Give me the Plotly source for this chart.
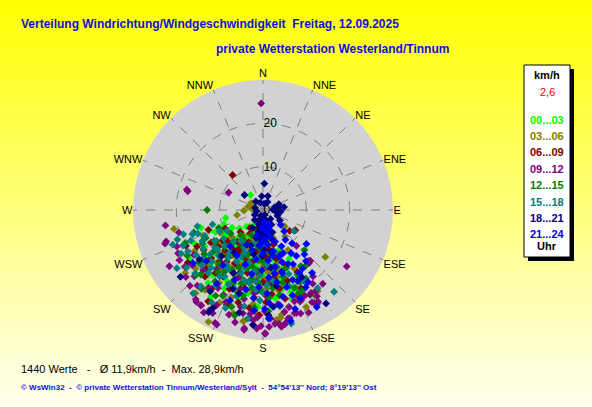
import plotly.graph_objects as go

werte_00_03 = [(258, 8.8), (250, 9.6), (320, 4.5), (199, 23.2), (200, 22.3), (149, 23.0), (161, 19.9), (159, 19.2),
               (235, 10.5), (240, 8.2), (228, 12.4), (222, 9.1), (215, 11.8), (210, 7.6), (205, 13.5), (198, 10.2),
               (192, 8.4), (188, 12.9), (185, 6.3), (182, 15.1), (178, 9.7), (175, 13.3), (170, 11.6), (166, 16.4),
               (160, 14.2), (155, 17.8), (213, 15.6), (219, 17.2), (226, 14.8), (232, 6.9), (245, 12.1), (238, 15.9),
               (207, 18.4), (196, 16.7), (190, 19.5), (184, 18.2), (176, 17.1), (172, 20.6), (168, 8.8), (164, 12.5),
               (194, 4.6), (202, 5.9), (212, 4.2), (225, 5.4), (180, 3.8), (186, 2.7), (230, 18.8), (217, 21.1),
               (209, 9.8), (203, 11.3), (197, 14.1), (191, 6.9), (171, 5.8), (158, 9.9), (152, 12.8), (183, 22.4),
               (244, 17.6), (254, 14.9), (236, 20.3), (221, 13.1), (214, 8.6), (206, 20.2), (187, 10.8), (179, 14.6),
               (173, 7.4), (167, 18.9), (162, 21.5), (183, 5.2), (178, 6.1), (189, 7.3), (174, 9.0), (181, 11.9),
               (176, 4.7), (193, 9.1), (200, 12.6), (208, 15.0), (216, 10.4), (224, 16.5), (233, 13.7), (241, 10.8),
               (249, 13.2), (186, 16.0), (170, 14.1), (163, 17.6), (156, 20.3), (195, 20.9), (211, 23.3), (184, 9.6),
               (191, 11.4), (197, 17.9), (204, 16.3), (218, 19.1), (229, 16.9), (177, 11.0), (169, 16.8)]
werte_03_06 = [(276, 2.6), (259, 6.1), (127, 6.3), (140, 7.9), (127, 18.0), (156, 24.5), (147, 22.3), (170, 24.6),
               (171, 25.3), (173, 25.5), (190, 26.1), (200, 21.4), (197, 19.9), (206, 28.7), (190, 26.0), (229, 20.6),
               (258, 21.0), (129, 6.0), (146, 22.6), (283, 3.5), (295, 2.4), (300, 3.2), (268, 4.4), (242, 11.2),
               (236, 13.8), (229, 9.5), (221, 16.1), (214, 12.7), (208, 14.9), (201, 9.3), (194, 17.4), (189, 11.6),
               (184, 13.9), (178, 18.3), (174, 10.4), (168, 15.7), (163, 12.2), (157, 19.4), (152, 15.3), (148, 10.9),
               (186, 21.8), (181, 7.2), (193, 5.8), (218, 7.4), (233, 16.9), (247, 15.1), (211, 19.6), (205, 23.6),
               (199, 16.2), (177, 21.2), (165, 23.1), (160, 6.9), (210, 4.9), (226, 18.1), (216, 22.8), (185, 9.2),
               (195, 12.3), (170, 4.3), (180, 12.8), (187, 15.8), (192, 9.9), (198, 7.1), (203, 17.8), (209, 11.0),
               (215, 17.1), (222, 13.5), (230, 11.9), (239, 18.4), (175, 14.5), (169, 19.0), (162, 17.2), (155, 21.2),
               (183, 24.2), (196, 24.8), (219, 24.7), (231, 23.1), (188, 18.6), (201, 13.6), (212, 15.3), (225, 14.3),
               (179, 16.0), (166, 13.5)]
werte_06_09 = [(319, 10.7), (128, 7.8), (122, 8.8), (230, 18.9), (182, 24.3), (168, 18.5), (238, 14.2), (233, 11.7),
               (227, 16.3), (223, 12.8), (219, 9.4), (215, 14.6), (211, 17.9), (207, 11.2), (204, 8.1), (200, 15.3),
               (197, 12.4), (193, 18.6), (190, 9.8), (187, 14.1), (183, 11.3), (180, 16.7), (176, 13.2), (172, 9.1),
               (169, 14.9), (165, 11.6), (161, 17.3), (157, 13.8), (221, 20.4), (213, 21.7), (203, 19.8), (195, 22.1),
               (186, 20.5), (178, 21.3), (209, 6.2), (216, 5.1), (199, 4.8), (188, 5.9), (244, 9.7), (241, 17.4),
               (235, 21.2), (226, 7.3), (217, 18.2), (206, 16.0), (192, 7.7), (184, 18.7), (174, 19.5), (163, 8.3),
               (154, 20.1), (250, 13.4), (231, 13.3), (220, 15.5), (212, 10.6), (198, 13.7), (189, 16.4), (181, 9.3),
               (159, 11.0), (151, 16.4), (183, 14.9), (178, 10.5), (191, 12.0), (196, 17.5), (202, 11.7), (208, 13.9),
               (214, 9.2), (224, 18.9), (229, 10.9), (236, 16.5), (245, 19.6), (171, 15.9), (166, 21.1), (188, 22.8),
               (201, 23.4), (211, 24.6), (175, 11.2), (194, 15.0), (205, 14.1), (218, 11.4), (185, 16.6), (173, 17.3)]
werte_09_12 = [(359, 24.6), (285, 18.2), (297, 8.9), (124, 23.3), (179, 28.6), (189, 28.0), (185, 26.6), (137, 11.3),
               (139, 16.2), (152, 24.1), (150, 25.0), (162, 25.0), (157, 22.6), (158, 21.6), (169, 26.7), (174, 26.4),
               (166, 25.7), (179, 28.4), (181, 26.8), (185, 25.5), (189, 27.6), (187, 24.1), (185, 23.2), (191, 24.3),
               (202, 28.5), (206, 26.5), (208, 26.1), (213, 26.2), (206, 24.4), (202, 22.9), (187, 25.1), (183, 24.8),
               (141, 21.9), (150, 22.1), (151, 22.4), (147, 22.3), (151, 24.5), (149, 24.7), (163, 24.9), (160, 25.4),
               (167, 25.7), (169, 26.8), (172, 26.5), (176, 25.1), (165, 23.2), (161, 22.3), (158, 22.8), (146, 20.5),
               (239, 22.5), (216, 26.2), (213, 26.3), (217, 25.8), (203, 28.3), (284, 17.9), (261, 22.8), (252, 23.5),
               (251, 23.9), (243, 22.0), (239, 25.2), (234, 22.3), (137, 16.0), (138, 15.8), (225, 19.5), (218, 17.3),
               (210, 20.8), (196, 18.9), (192, 21.0), (178, 19.8), (171, 22.0), (229, 23.6), (224, 24.3), (190, 14.9),
               (200, 16.6), (175, 16.2), (156, 25.9), (148, 23.5), (171, 27.3), (177, 27.0), (183, 27.4), (194, 26.7),
               (198, 25.4), (210, 27.3), (221, 23.1), (226, 22.0), (232, 20.7), (237, 19.0), (247, 21.6), (255, 20.1),
               (143, 19.2), (154, 22.0), (168, 24.0), (193, 22.9), (205, 21.6), (215, 21.9), (186, 19.3), (179, 23.4)]
werte_12_15 = [(270, 12.9), (248, 11.0), (134, 13.3), (146, 15.6), (143, 16.2), (154, 20.7), (157, 20.9), (218, 23.1),
               (226, 21.6), (224, 20.7), (239, 20.4), (153, 18.7), (148, 18.7), (231, 19.2), (236, 12.9), (230, 15.2),
               (223, 10.7), (217, 13.6), (212, 16.8), (208, 9.7), (203, 14.4), (199, 11.1), (196, 17.6), (191, 13.2),
               (187, 8.6), (183, 16.9), (179, 12.1), (175, 15.8), (171, 10.3), (167, 13.7), (163, 16.1), (158, 14.4),
               (214, 19.8), (205, 21.9), (193, 20.3), (185, 22.6), (177, 23.4), (169, 20.1), (221, 7.8), (205, 6.4),
               (190, 4.9), (244, 14.7), (228, 17.5), (211, 12.3), (200, 8.3), (181, 7.0), (173, 18.2), (160, 11.3),
               (252, 16.8), (234, 9.2), (198, 23.5), (188, 18.1), (185, 11.7), (180, 9.4), (190, 16.2), (195, 14.0),
               (202, 18.3), (207, 15.6), (213, 8.2), (219, 16.1), (226, 12.3), (233, 17.0), (241, 16.0), (247, 19.5),
               (176, 20.3), (165, 17.4), (158, 19.4), (152, 16.9), (181, 18.8), (209, 22.6), (195, 25.2), (186, 14.0),
               (197, 10.3), (216, 17.7), (222, 14.6), (174, 13.0)]
werte_15_18 = [(254, 12.1), (124, 8.6), (191, 22.6), (166, 27.0), (139, 25.0), (251, 20.9), (246, 20.2), (251, 17.2),
               (250, 16.0), (246, 14.7), (243, 15.7), (231, 17.9), (230, 15.9), (236, 18.6), (241, 19.8), (247, 18.1),
               (238, 13.3), (234, 11.2), (229, 13.9), (225, 16.8), (221, 19.2), (218, 12.4), (214, 15.1), (210, 17.7),
               (207, 13.3), (203, 10.8), (199, 15.4), (195, 12.6), (191, 17.1), (188, 14.3), (184, 10.6), (180, 19.1),
               (176, 12.8), (172, 16.5), (168, 13.1), (164, 10.2), (158, 15.9), (227, 21.4), (219, 22.7), (212, 20.6),
               (205, 18.9), (197, 20.8), (186, 16.6), (178, 8.7), (193, 7.9), (215, 8.8), (240, 9.6), (256, 15.6),
               (249, 22.3), (233, 22.1), (223, 9.9), (201, 24.2), (182, 20.9), (170, 22.6), (161, 18.6), (244, 11.1),
               (237, 16.4), (228, 19.1), (232, 14.1), (227, 12.0), (222, 17.9), (216, 13.6), (211, 15.8), (205, 12.0),
               (200, 19.3), (195, 16.8), (189, 11.4), (183, 15.2), (177, 17.4), (242, 21.4), (253, 19.2), (236, 24.0),
               (220, 25.1), (209, 24.4), (150, 19.1), (145, 22.0), (188, 25.3), (207, 9.6), (198, 13.9), (224, 14.7),
               (213, 18.3), (185, 18.5)]
werte_18_21 = [(3, 6.1), (309, 5.5), (355, 3.2), (19, 3.4), (76, 2.8), (80, 3.6), (82, 4.9), (101, 3.3),
               (146, 26.0), (177, 24.3), (185, 26.6), (193, 24.3), (207, 25.4), (196, 20.0), (201, 19.5), (174, 22.5),
               (231, 24.5), (208, 26.7), (213, 22.4), (70, 3.9), (88, 2.3), (95, 4.1), (112, 3.6), (122, 4.6),
               (30, 2.1), (340, 1.8), (10, 1.5), (320, 2.6), (285, 1.9), (160, 1.2), (165, 2.5), (168, 3.8),
               (171, 5.1), (173, 6.3), (175, 7.4), (177, 2.0), (179, 3.1), (180, 4.4), (182, 5.7), (183, 6.9),
               (185, 8.1), (186, 1.6), (188, 2.9), (190, 4.0), (192, 5.3), (194, 6.6), (197, 3.4), (200, 1.4),
               (204, 2.6), (178, 9.2), (181, 10.6), (214, 11.8), (172, 13.5), (222, 14.3), (205, 16.1), (169, 9.9),
               (163, 7.1), (157, 5.6), (150, 3.9), (140, 2.7), (210, 4.8), (220, 3.0), (240, 2.2), (260, 1.5),
               (232, 18.6), (150, 17.9), (170, 17.8), (192, 10.4), (199, 8.7), (163, 14.8)]
werte_21_24 = [(128, 12.7), (144, 13.1), (151, 14.3), (151, 20.4), (161, 20.8), (151, 25.6), (176, 21.6), (170, 22.3),
               (157, 22.1), (163, 18.6), (148, 19.6), (139, 10.2), (143, 8.6), (147, 11.9), (150, 16.8), (153, 9.4),
               (155, 13.7), (157, 17.5), (159, 7.8), (161, 11.4), (163, 15.2), (165, 6.3), (166, 9.8), (168, 13.4),
               (169, 17.0), (171, 4.9), (172, 8.1), (174, 11.7), (175, 15.6), (177, 19.3), (178, 6.7), (180, 10.0),
               (181, 13.9), (183, 17.8), (184, 4.2), (186, 8.3), (188, 11.5), (190, 15.0), (193, 6.1), (195, 9.6),
               (198, 13.2), (202, 17.4), (205, 8.9), (210, 12.1), (216, 15.8), (222, 11.3), (228, 17.6), (233, 20.3),
               (140, 15.4), (135, 6.9), (130, 5.3), (158, 3.7), (162, 24.0), (167, 20.5), (173, 2.9), (186, 20.4),
               (192, 18.8), (154, 18.2), (146, 16.3), (160, 12.8), (170, 14.9), (164, 4.6), (182, 7.5), (185, 23.3),
               (177, 25.1), (166, 26.4), (142, 18.4), (137, 14.0), (155, 11.0), (168, 10.8), (179, 22.8), (212, 20.1),
               (200, 22.2)]

zeitraeume = ['00...03', '03...06', '06...09', '09...12', '12...15', '15...18', '18...21', '21...24']
farben = ['#00FF00', '#808000', '#800000', '#800080', '#008000', '#008080', '#000080', '#0000FF']
gruppen = [werte_00_03, werte_03_06, werte_06_09, werte_09_12, werte_12_15, werte_15_18, werte_18_21, werte_21_24]

richtungen = ['N', 'NNE', 'NE', 'ENE', 'E', 'ESE', 'SE', 'SSE', 'S', 'SSW', 'SW', 'WSW', 'W', 'WNW', 'NW', 'NNW']
ring_ticks = [0, 10, 20]

W, H = 592, 407
FONT = 'Liberation Sans, Arial, sans-serif'
BLAU = '#1010E0'

fig = go.Figure()

for name, col, werte in zip(zeitraeume, farben, gruppen):
    theta = [w[0] for w in werte]
    r = [w[1] for w in werte]
    fig.add_trace(go.Scatterpolar(r=r, theta=theta, mode='markers', name=name,
                                  marker=dict(symbol='diamond', size=6, color=col, line=dict(width=0)),
                                  showlegend=False))

# BACKGROUND GRADIENT (yellow -> pale)
shapes = []
n = 60
for i in range(n):
    t = (i + 0.5) / n
    b = int(round(242 * t))
    shapes.append(dict(type='rect', xref='paper', yref='paper', x0=0, x1=1,
                       y0=1 - (i + 1) / n - 0.001, y1=1 - i / n,
                       fillcolor='rgb(255,255,%d)' % b, line=dict(width=0), layer='below'))

# LEGEND BOX WITH SHADOW
def px_rect(x0, y0, x1, y1, **kw):
    return dict(type='rect', xref='paper', yref='paper', x0=x0 / W, x1=x1 / W,
                y0=1 - y1 / H, y1=1 - y0 / H, **kw)

shapes.append(px_rect(528, 69, 574, 261, fillcolor='black', line=dict(width=0)))
shapes.append(px_rect(524, 65, 570, 257, fillcolor='white', line=dict(color='black', width=1)))

def txt(x, y, s, size=11, color='black', bold=False, anchor='left'):
    if bold:
        s = '<b>' + s + '</b>'
    fig.add_annotation(x=x / W, y=1 - y / H, xref='paper', yref='paper', text=s, showarrow=False,
                       xanchor=anchor, yanchor='middle', font=dict(family=FONT, size=size, color=color))

txt(19, 24, 'Verteilung Windrichtung/Windgeschwindigkeit  Freitag, 12.09.2025', size=12, color=BLAU, bold=True)
txt(214, 49, 'private Wetterstation Westerland/Tinnum', size=12, color=BLAU, bold=True)

txt(547, 75, 'km/h', size=11, bold=True, anchor='center')
txt(547, 92, '2,6', size=11, color='#FF0000', anchor='center')
for i, (name, col) in enumerate(zip(zeitraeume, farben)):
    txt(547, 119.5 + 16.4 * i, name, size=11, color=col, bold=True, anchor='center')
txt(547, 246, 'Uhr', size=11, bold=True, anchor='center')

txt(19, 369, '1440 Werte   -   Ø 11,9km/h  -  Max. 28,9km/h', size=11)
txt(19, 387, "© WsWin32  -  © private Wetterstation Tinnum/Westerland/Sylt  -  54°54'13'' Nord; 8°19'13'' Ost",
    size=8, color=BLAU, bold=True)

fig.update_layout(
    width=W, height=H, autosize=False,
    margin=dict(l=0, r=0, t=0, b=0),
    paper_bgcolor='#FFFF80',
    shapes=shapes,
    polar=dict(
        domain=dict(x=[133 / W, 393 / W], y=[1 - 340 / H, 1 - 80 / H]),
        bgcolor='#D2D2D2',
        angularaxis=dict(direction='clockwise', rotation=90,
                         tickvals=[i * 22.5 for i in range(16)], ticktext=richtungen,
                         showline=False, ticks='', gridcolor='#808080', griddash='dash', gridwidth=1,
                         tickfont=dict(family=FONT, size=11, color='black')),
        radialaxis=dict(range=[0, 30], tickvals=ring_ticks, ticktext=[str(v) for v in ring_ticks],
                        showline=False, ticks='', gridcolor='#808080', griddash='dash', gridwidth=1,
                        angle=90, tickangle=90, layer='below traces',
                        tickfont=dict(family=FONT, size=12, color='black')),
    ),
)

fig.write_html('out.html', config={'displayModeBar': False},
               post_script="document.body.style.margin='0';")
